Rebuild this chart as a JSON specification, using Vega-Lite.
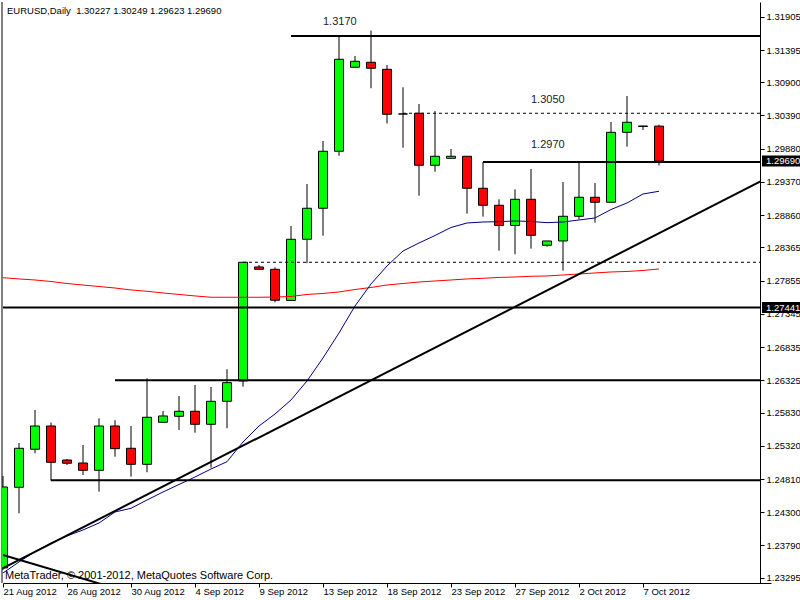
{
  "$schema": "https://vega.github.io/schema/vega-lite/v6.json",
  "width": 758,
  "height": 581,
  "autosize": {"type": "none"},
  "padding": {"left": 2, "top": 2, "right": 40, "bottom": 17},
  "background": "white",
  "config": {
    "view": {"stroke": null},
    "font": "Liberation Sans",
    "axis": {"labelOverlap": false, "labelBound": false, "labelFlush": false},
    "axisY": {"labelOverlap": false}
  },
  "datasets": {
    "candles": [
      {"d": "21 Aug 2012", "o": 1.23445, "h": 1.24857, "l": 1.23414, "c": 1.24688, "fast": 1.23368, "slow": 1.27900},
      {"d": "22 Aug 2012", "o": 1.24683, "h": 1.25363, "l": 1.24284, "c": 1.25282, "fast": 1.23537, "slow": 1.27881},
      {"d": "23 Aug 2012", "o": 1.25267, "h": 1.25870, "l": 1.25205, "c": 1.25624, "fast": 1.23695, "slow": 1.27865},
      {"d": "24 Aug 2012", "o": 1.25624, "h": 1.25675, "l": 1.24785, "c": 1.25067, "fast": 1.23828, "slow": 1.27842},
      {"d": "26 Aug 2012", "o": 1.25102, "h": 1.25118, "l": 1.25026, "c": 1.25052, "fast": 1.23936, "slow": 1.27811},
      {"d": "27 Aug 2012", "o": 1.25056, "h": 1.25333, "l": 1.24872, "c": 1.24944, "fast": 1.24028, "slow": 1.27788},
      {"d": "28 Aug 2012", "o": 1.24944, "h": 1.25742, "l": 1.24616, "c": 1.25624, "fast": 1.24135, "slow": 1.27765},
      {"d": "29 Aug 2012", "o": 1.25624, "h": 1.25712, "l": 1.25153, "c": 1.25276, "fast": 1.24304, "slow": 1.27742},
      {"d": "30 Aug 2012", "o": 1.25282, "h": 1.25624, "l": 1.24846, "c": 1.25036, "fast": 1.24361, "slow": 1.27712},
      {"d": "31 Aug 2012", "o": 1.25036, "h": 1.26356, "l": 1.24914, "c": 1.25758, "fast": 1.24488, "slow": 1.27692},
      {"d": "2 Sep 2012", "o": 1.25681, "h": 1.25854, "l": 1.25681, "c": 1.25778, "fast": 1.24611, "slow": 1.27666},
      {"d": "3 Sep 2012", "o": 1.25773, "h": 1.26085, "l": 1.25563, "c": 1.25850, "fast": 1.24726, "slow": 1.27643},
      {"d": "4 Sep 2012", "o": 1.25850, "h": 1.26254, "l": 1.25521, "c": 1.25650, "fast": 1.24841, "slow": 1.27620},
      {"d": "5 Sep 2012", "o": 1.25650, "h": 1.26223, "l": 1.24984, "c": 1.26003, "fast": 1.24964, "slow": 1.27600},
      {"d": "6 Sep 2012", "o": 1.26003, "h": 1.26495, "l": 1.25589, "c": 1.26289, "fast": 1.25076, "slow": 1.27600},
      {"d": "7 Sep 2012", "o": 1.26315, "h": 1.28141, "l": 1.26227, "c": 1.28137, "fast": 1.25379, "slow": 1.27600},
      {"d": "9 Sep 2012", "o": 1.28065, "h": 1.28095, "l": 1.28029, "c": 1.28029, "fast": 1.25624, "slow": 1.27600},
      {"d": "10 Sep 2012", "o": 1.28029, "h": 1.28060, "l": 1.27523, "c": 1.27554, "fast": 1.25808, "slow": 1.27604},
      {"d": "11 Sep 2012", "o": 1.27551, "h": 1.28694, "l": 1.27551, "c": 1.28490, "fast": 1.26023, "slow": 1.27612},
      {"d": "12 Sep 2012", "o": 1.28490, "h": 1.29339, "l": 1.28122, "c": 1.28966, "fast": 1.26315, "slow": 1.27643},
      {"d": "13 Sep 2012", "o": 1.28966, "h": 1.29999, "l": 1.28545, "c": 1.29841, "fast": 1.26668, "slow": 1.27658},
      {"d": "14 Sep 2012", "o": 1.29841, "h": 1.31610, "l": 1.29773, "c": 1.31253, "fast": 1.27052, "slow": 1.27681},
      {"d": "16 Sep 2012", "o": 1.31130, "h": 1.31303, "l": 1.31130, "c": 1.31222, "fast": 1.27466, "slow": 1.27719},
      {"d": "17 Sep 2012", "o": 1.31207, "h": 1.31692, "l": 1.30808, "c": 1.31115, "fast": 1.27804, "slow": 1.27750},
      {"d": "18 Sep 2012", "o": 1.31099, "h": 1.31165, "l": 1.30267, "c": 1.30409, "fast": 1.28080, "slow": 1.27788},
      {"d": "19 Sep 2012", "o": 1.30413, "h": 1.30823, "l": 1.29896, "c": 1.30413, "fast": 1.28310, "slow": 1.27811},
      {"d": "20 Sep 2012", "o": 1.30424, "h": 1.30567, "l": 1.29159, "c": 1.29626, "fast": 1.28433, "slow": 1.27834},
      {"d": "21 Sep 2012", "o": 1.29626, "h": 1.30459, "l": 1.29527, "c": 1.29764, "fast": 1.28548, "slow": 1.27850},
      {"d": "23 Sep 2012", "o": 1.29733, "h": 1.29876, "l": 1.29733, "c": 1.29764, "fast": 1.28671, "slow": 1.27865},
      {"d": "24 Sep 2012", "o": 1.29764, "h": 1.29764, "l": 1.28883, "c": 1.29273, "fast": 1.28740, "slow": 1.27881},
      {"d": "25 Sep 2012", "o": 1.29273, "h": 1.29676, "l": 1.28837, "c": 1.29012, "fast": 1.28755, "slow": 1.27891},
      {"d": "26 Sep 2012", "o": 1.29012, "h": 1.29104, "l": 1.28315, "c": 1.28702, "fast": 1.28760, "slow": 1.27904},
      {"d": "27 Sep 2012", "o": 1.28702, "h": 1.29257, "l": 1.28260, "c": 1.29104, "fast": 1.28771, "slow": 1.27911},
      {"d": "28 Sep 2012", "o": 1.29104, "h": 1.29569, "l": 1.28346, "c": 1.28551, "fast": 1.28763, "slow": 1.27922},
      {"d": "30 Sep 2012", "o": 1.28398, "h": 1.28464, "l": 1.28376, "c": 1.28464, "fast": 1.28745, "slow": 1.27927},
      {"d": "1 Oct 2012", "o": 1.28464, "h": 1.29369, "l": 1.28008, "c": 1.28843, "fast": 1.28755, "slow": 1.27942},
      {"d": "2 Oct 2012", "o": 1.28843, "h": 1.29676, "l": 1.28797, "c": 1.29135, "fast": 1.28786, "slow": 1.27957},
      {"d": "3 Oct 2012", "o": 1.29135, "h": 1.29354, "l": 1.28745, "c": 1.29058, "fast": 1.28817, "slow": 1.27973},
      {"d": "4 Oct 2012", "o": 1.29058, "h": 1.30290, "l": 1.29058, "c": 1.30132, "fast": 1.28947, "slow": 1.27988},
      {"d": "5 Oct 2012", "o": 1.30132, "h": 1.30689, "l": 1.29911, "c": 1.30286, "fast": 1.29047, "slow": 1.27996},
      {"d": "7 Oct 2012", "o": 1.30229, "h": 1.30232, "l": 1.30168, "c": 1.30221, "fast": 1.29185, "slow": 1.28011},
      {"d": "8 Oct 2012", "o": 1.30227, "h": 1.30249, "l": 1.29623, "c": 1.29690, "fast": 1.29227, "slow": 1.28034}
    ],
    "levels": [
      {"from": "11 Sep 2012", "to": "16 Oct 2012", "price": 1.31610, "kind": "solid"},
      {"from": "19 Sep 2012", "to": "16 Oct 2012", "price": 1.30424, "kind": "dashed"},
      {"from": "25 Sep 2012", "to": "16 Oct 2012", "price": 1.29676, "kind": "solid"},
      {"from": "7 Sep 2012", "to": "16 Oct 2012", "price": 1.28137, "kind": "dashed"},
      {"from": "21 Aug 2012", "to": "16 Oct 2012", "price": 1.27441, "kind": "solid"},
      {"from": "29 Aug 2012", "to": "16 Oct 2012", "price": 1.26325, "kind": "solid"},
      {"from": "24 Aug 2012", "to": "16 Oct 2012", "price": 1.24790, "kind": "solid"}
    ],
    "trend": [
      {"line": "up", "d": "21 Aug 2012", "price": 1.23442},
      {"line": "up", "d": "16 Oct 2012", "price": 1.29460},
      {"line": "down", "d": "21 Aug 2012", "price": 1.23643},
      {"line": "down", "d": "30 Aug 2012", "price": 1.23062}
    ],
    "notes": [
      {"d": "13 Sep 2012", "price": 1.31825, "text": "1.3170"},
      {"d": "28 Sep 2012", "price": 1.30628, "text": "1.3050"},
      {"d": "28 Sep 2012", "price": 1.29937, "text": "1.2970"}
    ],
    "header": [
      {"d": "21 Aug 2012", "price": 1.31997, "text": "EURUSD,Daily\u00a0 1.30227 1.30249 1.29623 1.29690"}
    ],
    "copyright": [
      {"d": "21 Aug 2012", "price": 1.23322, "text": "MetaTrader, © 2001-2012, MetaQuotes Software Corp."}
    ],
    "frame": [
      {"d": "21 Aug 2012"}
    ],
    "tags": [
      {"price": 1.29690},
      {"price": 1.27441}
    ]
  },
  "encoding": {
    "x": {
      "field": "d",
      "type": "ordinal",
      "scale": {
        "type": "point",
        "padding": 0,
        "range": [1, 769],
        "domain": ["21 Aug 2012", "22 Aug 2012", "23 Aug 2012", "24 Aug 2012", "26 Aug 2012", "27 Aug 2012", "28 Aug 2012", "29 Aug 2012", "30 Aug 2012", "31 Aug 2012", "2 Sep 2012", "3 Sep 2012", "4 Sep 2012", "5 Sep 2012", "6 Sep 2012", "7 Sep 2012", "9 Sep 2012", "10 Sep 2012", "11 Sep 2012", "12 Sep 2012", "13 Sep 2012", "14 Sep 2012", "16 Sep 2012", "17 Sep 2012", "18 Sep 2012", "19 Sep 2012", "20 Sep 2012", "21 Sep 2012", "23 Sep 2012", "24 Sep 2012", "25 Sep 2012", "26 Sep 2012", "27 Sep 2012", "28 Sep 2012", "30 Sep 2012", "1 Oct 2012", "2 Oct 2012", "3 Oct 2012", "4 Oct 2012", "5 Oct 2012", "7 Oct 2012", "8 Oct 2012", "9 Oct 2012", "10 Oct 2012", "11 Oct 2012", "12 Oct 2012", "14 Oct 2012", "15 Oct 2012", "16 Oct 2012"]
      },
      "axis": {
        "values": ["21 Aug 2012", "26 Aug 2012", "30 Aug 2012", "4 Sep 2012", "9 Sep 2012", "13 Sep 2012", "18 Sep 2012", "23 Sep 2012", "27 Sep 2012", "2 Oct 2012", "7 Oct 2012"],
        "title": null,
        "grid": false,
        "labelAngle": 0,
        "labelAlign": "left",
        "labelBaseline": "middle",
        "labelPadding": 4.5,
        "labelDx": 1,
        "tickSize": 4,
        "tickColor": "black",
        "domainColor": "black",
        "labelColor": "black",
        "labelFont": "Liberation Sans",
        "labelFontSize": 9.5,
        "labelOverlap": false,
        "labelBound": false,
        "labelFlush": false
      }
    }
  },
  "layer": [
    {
      "data": {"name": "frame"},
      "mark": {"type": "rule", "color": "black", "strokeWidth": 1, "xOffset": -1},
      "encoding": {}
    },
    {
      "data": {"name": "candles"},
      "mark": {"type": "rule", "color": "black", "strokeWidth": 1},
      "encoding": {
        "y": {
          "field": "l",
          "type": "quantitative",
          "scale": {"domain": [1.23214, 1.32132], "nice": false, "zero": false},
          "axis": {"orient": "right", "title": null, "grid": false, "values": [1.31905, 1.31395, 1.30900, 1.30390, 1.29880, 1.29370, 1.28860, 1.28365, 1.27855, 1.27345, 1.26835, 1.26325, 1.25830, 1.25320, 1.24810, 1.24300, 1.23790, 1.23295], "format": ".5f", "tickSize": 4, "tickColor": "black", "domainColor": "black", "labelColor": "black", "labelFont": "Liberation Sans", "labelFontSize": 9.5, "labelPadding": 2, "labelAlign": "left", "labelBaseline": "middle", "labelOverlap": false, "labelBound": false, "labelFlush": false}
        },
        "y2": {"field": "h"}
      }
    },
    {
      "data": {"name": "candles"},
      "mark": {"type": "bar", "width": 9, "stroke": "black", "strokeWidth": 1, "clip": true},
      "encoding": {
        "y": {"field": "o", "type": "quantitative", "scale": {"domain": [1.23214, 1.32132], "nice": false, "zero": false},
          "axis": {"orient": "right", "title": null, "grid": false, "values": [1.31905, 1.31395, 1.30900, 1.30390, 1.29880, 1.29370, 1.28860, 1.28365, 1.27855, 1.27345, 1.26835, 1.26325, 1.25830, 1.25320, 1.24810, 1.24300, 1.23790, 1.23295], "format": ".5f", "tickSize": 4, "tickColor": "black", "domainColor": "black", "labelColor": "black", "labelFont": "Liberation Sans", "labelFontSize": 9.5, "labelPadding": 2, "labelAlign": "left", "labelBaseline": "middle", "labelOverlap": false, "labelBound": false, "labelFlush": false}},
        "y2": {"field": "c"},
        "fill": {"condition": {"test": "datum.c > datum.o", "value": "#00ff00"}, "value": "#ff0000"}
      }
    },
    {
      "data": {"name": "candles"},
      "mark": {"type": "line", "color": "#ff0000", "strokeWidth": 1},
      "encoding": {
        "y": {"field": "slow", "type": "quantitative", "scale": {"domain": [1.23214, 1.32132], "nice": false, "zero": false},
          "axis": {"orient": "right", "title": null, "grid": false, "values": [1.31905, 1.31395, 1.30900, 1.30390, 1.29880, 1.29370, 1.28860, 1.28365, 1.27855, 1.27345, 1.26835, 1.26325, 1.25830, 1.25320, 1.24810, 1.24300, 1.23790, 1.23295], "format": ".5f", "tickSize": 4, "tickColor": "black", "domainColor": "black", "labelColor": "black", "labelFont": "Liberation Sans", "labelFontSize": 9.5, "labelPadding": 2, "labelAlign": "left", "labelBaseline": "middle", "labelOverlap": false, "labelBound": false, "labelFlush": false}},
        "order": {"value": null}
      }
    },
    {
      "data": {"name": "candles"},
      "mark": {"type": "line", "color": "#000080", "strokeWidth": 1},
      "encoding": {
        "y": {"field": "fast", "type": "quantitative", "scale": {"domain": [1.23214, 1.32132], "nice": false, "zero": false},
          "axis": {"orient": "right", "title": null, "grid": false, "values": [1.31905, 1.31395, 1.30900, 1.30390, 1.29880, 1.29370, 1.28860, 1.28365, 1.27855, 1.27345, 1.26835, 1.26325, 1.25830, 1.25320, 1.24810, 1.24300, 1.23790, 1.23295], "format": ".5f", "tickSize": 4, "tickColor": "black", "domainColor": "black", "labelColor": "black", "labelFont": "Liberation Sans", "labelFontSize": 9.5, "labelPadding": 2, "labelAlign": "left", "labelBaseline": "middle", "labelOverlap": false, "labelBound": false, "labelFlush": false}},
        "order": {"value": null}
      }
    },
    {
      "data": {"name": "levels"},
      "mark": {"type": "rule", "color": "black", "clip": true},
      "encoding": {
        "x": {"field": "from", "type": "ordinal"},
        "x2": {"field": "to"},
        "y": {"field": "price", "type": "quantitative", "scale": {"domain": [1.23214, 1.32132], "nice": false, "zero": false},
          "axis": {"orient": "right", "title": null, "grid": false, "values": [1.31905, 1.31395, 1.30900, 1.30390, 1.29880, 1.29370, 1.28860, 1.28365, 1.27855, 1.27345, 1.26835, 1.26325, 1.25830, 1.25320, 1.24810, 1.24300, 1.23790, 1.23295], "format": ".5f", "tickSize": 4, "tickColor": "black", "domainColor": "black", "labelColor": "black", "labelFont": "Liberation Sans", "labelFontSize": 9.5, "labelPadding": 2, "labelAlign": "left", "labelBaseline": "middle", "labelOverlap": false, "labelBound": false, "labelFlush": false}},
        "strokeDash": {"field": "kind", "type": "nominal", "scale": {"domain": ["solid", "dashed"], "range": [[1, 0], [3, 3]]}, "legend": null},
        "strokeWidth": {"field": "kind", "type": "nominal", "scale": {"domain": ["solid", "dashed"], "range": [2, 1]}, "legend": null}
      }
    },
    {
      "data": {"name": "trend"},
      "mark": {"type": "line", "color": "black", "strokeWidth": 2, "clip": true},
      "encoding": {
        "y": {"field": "price", "type": "quantitative", "scale": {"domain": [1.23214, 1.32132], "nice": false, "zero": false},
          "axis": {"orient": "right", "title": null, "grid": false, "values": [1.31905, 1.31395, 1.30900, 1.30390, 1.29880, 1.29370, 1.28860, 1.28365, 1.27855, 1.27345, 1.26835, 1.26325, 1.25830, 1.25320, 1.24810, 1.24300, 1.23790, 1.23295], "format": ".5f", "tickSize": 4, "tickColor": "black", "domainColor": "black", "labelColor": "black", "labelFont": "Liberation Sans", "labelFontSize": 9.5, "labelPadding": 2, "labelAlign": "left", "labelBaseline": "middle", "labelOverlap": false, "labelBound": false, "labelFlush": false}},
        "detail": {"field": "line", "type": "nominal"},
        "order": {"value": null}
      }
    },
    {
      "data": {"name": "notes"},
      "mark": {"type": "text", "align": "left", "baseline": "middle", "font": "Liberation Sans", "fontSize": 11, "color": "#222222"},
      "encoding": {
        "y": {"field": "price", "type": "quantitative", "scale": {"domain": [1.23214, 1.32132], "nice": false, "zero": false},
          "axis": {"orient": "right", "title": null, "grid": false, "values": [1.31905, 1.31395, 1.30900, 1.30390, 1.29880, 1.29370, 1.28860, 1.28365, 1.27855, 1.27345, 1.26835, 1.26325, 1.25830, 1.25320, 1.24810, 1.24300, 1.23790, 1.23295], "format": ".5f", "tickSize": 4, "tickColor": "black", "domainColor": "black", "labelColor": "black", "labelFont": "Liberation Sans", "labelFontSize": 9.5, "labelPadding": 2, "labelAlign": "left", "labelBaseline": "middle", "labelOverlap": false, "labelBound": false, "labelFlush": false}},
        "text": {"field": "text"}
      }
    },
    {
      "data": {"name": "header"},
      "mark": {"type": "text", "align": "left", "baseline": "middle", "font": "Liberation Sans", "fontSize": 9.5, "color": "black", "dx": 4},
      "encoding": {
        "y": {"field": "price", "type": "quantitative", "scale": {"domain": [1.23214, 1.32132], "nice": false, "zero": false},
          "axis": {"orient": "right", "title": null, "grid": false, "values": [1.31905, 1.31395, 1.30900, 1.30390, 1.29880, 1.29370, 1.28860, 1.28365, 1.27855, 1.27345, 1.26835, 1.26325, 1.25830, 1.25320, 1.24810, 1.24300, 1.23790, 1.23295], "format": ".5f", "tickSize": 4, "tickColor": "black", "domainColor": "black", "labelColor": "black", "labelFont": "Liberation Sans", "labelFontSize": 9.5, "labelPadding": 2, "labelAlign": "left", "labelBaseline": "middle", "labelOverlap": false, "labelBound": false, "labelFlush": false}},
        "text": {"field": "text"}
      }
    },
    {
      "data": {"name": "copyright"},
      "mark": {"type": "text", "align": "left", "baseline": "middle", "font": "Liberation Sans", "fontSize": 11, "color": "black", "dx": 2},
      "encoding": {
        "y": {"field": "price", "type": "quantitative", "scale": {"domain": [1.23214, 1.32132], "nice": false, "zero": false},
          "axis": {"orient": "right", "title": null, "grid": false, "values": [1.31905, 1.31395, 1.30900, 1.30390, 1.29880, 1.29370, 1.28860, 1.28365, 1.27855, 1.27345, 1.26835, 1.26325, 1.25830, 1.25320, 1.24810, 1.24300, 1.23790, 1.23295], "format": ".5f", "tickSize": 4, "tickColor": "black", "domainColor": "black", "labelColor": "black", "labelFont": "Liberation Sans", "labelFontSize": 9.5, "labelPadding": 2, "labelAlign": "left", "labelBaseline": "middle", "labelOverlap": false, "labelBound": false, "labelFlush": false}},
        "text": {"field": "text"}
      }
    },
    {
      "data": {"name": "tags"},
      "mark": {"type": "tick", "orient": "horizontal", "size": 38, "thickness": 11, "color": "black", "opacity": 1, "xOffset": 10},
      "encoding": {
        "x": {"datum": "16 Oct 2012", "type": "ordinal"},
        "y": {"field": "price", "type": "quantitative", "scale": {"domain": [1.23214, 1.32132], "nice": false, "zero": false},
          "axis": {"orient": "right", "title": null, "grid": false, "values": [1.31905, 1.31395, 1.30900, 1.30390, 1.29880, 1.29370, 1.28860, 1.28365, 1.27855, 1.27345, 1.26835, 1.26325, 1.25830, 1.25320, 1.24810, 1.24300, 1.23790, 1.23295], "format": ".5f", "tickSize": 4, "tickColor": "black", "domainColor": "black", "labelColor": "black", "labelFont": "Liberation Sans", "labelFontSize": 9.5, "labelPadding": 2, "labelAlign": "left", "labelBaseline": "middle", "labelOverlap": false, "labelBound": false, "labelFlush": false}}
      }
    },
    {
      "data": {"name": "tags"},
      "mark": {"type": "text", "align": "left", "baseline": "middle", "font": "Liberation Sans", "fontSize": 9.5, "color": "white", "dx": -5},
      "encoding": {
        "x": {"datum": "16 Oct 2012", "type": "ordinal"},
        "y": {"field": "price", "type": "quantitative", "scale": {"domain": [1.23214, 1.32132], "nice": false, "zero": false},
          "axis": {"orient": "right", "title": null, "grid": false, "values": [1.31905, 1.31395, 1.30900, 1.30390, 1.29880, 1.29370, 1.28860, 1.28365, 1.27855, 1.27345, 1.26835, 1.26325, 1.25830, 1.25320, 1.24810, 1.24300, 1.23790, 1.23295], "format": ".5f", "tickSize": 4, "tickColor": "black", "domainColor": "black", "labelColor": "black", "labelFont": "Liberation Sans", "labelFontSize": 9.5, "labelPadding": 2, "labelAlign": "left", "labelBaseline": "middle", "labelOverlap": false, "labelBound": false, "labelFlush": false}},
        "text": {"field": "price", "format": ".5f"}
      }
    }
  ]
}
